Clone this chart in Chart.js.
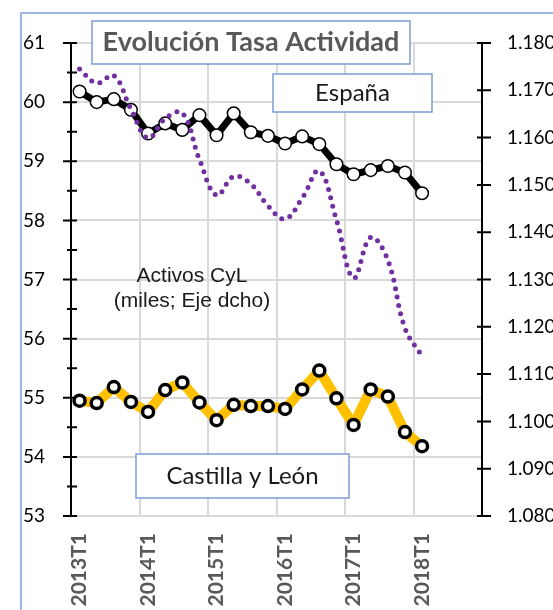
<!DOCTYPE html>
<html lang="es">
<head>
  <meta charset="UTF-8" />
  <title>Evolución Tasa Actividad</title>
  <script src="https://cdn.jsdelivr.net/npm/chart.js"></script>
  <style>
    * { margin: 0; padding: 0; box-sizing: border-box; }
    html, body { width: 553px; height: 610px; overflow: hidden; background: #fff; }
    .frame {
      position: absolute; left: 20px; top: 12px; width: 700px; height: 700px;
      border-left: 2px solid #9db6e2; border-top: 2px solid #9db6e2;
    }
    #chart { position: absolute; left: 0; top: 0; }
  </style>
</head>
<body>
  <div class="frame"></div>
  <canvas id="chart" width="600" height="610"></canvas>

  <script>
    // quarters on the x axis (the axis runs to 2018T4, data stops at 2018T1)
    const quarters = [
      '2013T1', '2013T2', '2013T3', '2013T4',
      '2014T1', '2014T2', '2014T3', '2014T4',
      '2015T1', '2015T2', '2015T3', '2015T4',
      '2016T1', '2016T2', '2016T3', '2016T4',
      '2017T1', '2017T2', '2017T3', '2017T4',
      '2018T1', '2018T2', '2018T3', '2018T4'
    ];

    // activity rate, % (left axis)
    const espana = [60.18, 60.00, 60.05, 59.87, 59.47, 59.64, 59.53, 59.78, 59.44, 59.81, 59.49,
                    59.43, 59.30, 59.42, 59.29, 58.95, 58.78, 58.85, 58.92, 58.81, 58.46];
    const castillaLeon = [54.95, 54.91, 55.18, 54.93, 54.76, 55.13, 55.26, 54.92, 54.62, 54.88, 54.86,
                          54.86, 54.81, 55.14, 55.46, 54.99, 54.54, 55.14, 55.02, 54.42, 54.18];

    // active population CyL, thousands (right axis)
    const activosCyL = [1174.5, 1171.5, 1173.1, 1166.0, 1159.9, 1164.0, 1165.2, 1155.4, 1147.8, 1151.8, 1150.2,
                        1145.6, 1142.8, 1147.2, 1153.0, 1142.6, 1130.3, 1138.9, 1134.1, 1119.7, 1113.8];

    const leftRange = { min: 53, max: 61, step: 0.5 };
    const rightRange = { min: 1080, max: 1180, step: 10 };

    const GRID = '#d9d9d9';

    // small cross tick marks on both value axes
    const axisTicks = {
      id: 'axisTicks',
      beforeDatasetsDraw(chart) {
        const { ctx } = chart;
        const y = chart.scales.y, y2 = chart.scales.y2;
        ctx.save();
        ctx.strokeStyle = '#000';
        ctx.lineWidth = 2;
        ctx.beginPath();
        y.ticks.forEach(t => {
          const py = y.getPixelForValue(t.value);
          const major = Number.isInteger(t.value);
          ctx.moveTo(y.right - (major ? 8 : 4), py);
          ctx.lineTo(y.right + 6, py);
        });
        y2.ticks.forEach(t => {
          const py = y2.getPixelForValue(t.value);
          ctx.moveTo(y2.left - 5, py);
          ctx.lineTo(y2.left + 9, py);
        });
        ctx.stroke();
        ctx.restore();
      }
    };

    // text boxes drawn over the plot
    const notes = [
      { box: [92, 21, 318, 43], lines: ['Evolución Tasa Actividad'], font: 'bold 27px Lato', color: '#595959' },
      { box: [273, 74, 159, 38], lines: ['España'], font: '24px Lato', color: '#1a1a1a' },
      { box: [136, 454, 213, 44], lines: ['Castilla y León'], font: '24px Lato', color: '#1a1a1a' },
      { at: [192, 276], lines: ['Activos CyL', '(miles; Eje dcho)'], font: '21px "Liberation Sans"', color: '#1a1a1a', lh: 25 }
    ];

    const textBoxes = {
      id: 'textBoxes',
      afterDraw(chart) {
        const { ctx } = chart;
        ctx.save();
        notes.forEach(n => {
          let cx, cy;
          if (n.box) {
            const [x, y, w, h] = n.box;
            ctx.fillStyle = '#fff';
            ctx.fillRect(x, y, w, h);
            ctx.strokeStyle = '#7b9dd4';
            ctx.lineWidth = 1.5;
            ctx.strokeRect(x, y, w, h);
            cx = x + w / 2;
            cy = y + h / 2;
          } else {
            [cx, cy] = n.at;
          }
          ctx.font = n.font;
          ctx.fillStyle = n.color;
          ctx.textAlign = 'center';
          ctx.textBaseline = 'middle';
          const lh = n.lh || 0;
          n.lines.forEach((s, i) => ctx.fillText(s, cx, cy + i * lh));
        });
        ctx.restore();
      }
    };

    new Chart(document.getElementById('chart'), {
      type: 'line',
      data: {
        labels: quarters,
        datasets: [
          {
            label: 'Activos CyL',
            data: activosCyL,
            yAxisID: 'y2',
            borderColor: '#7030a0',
            borderWidth: 5,
            borderDash: [0, 8.6],
            borderCapStyle: 'round',
            tension: 0.4,
            pointRadius: 0,
            fill: false
          },
          {
            label: 'España',
            data: espana,
            yAxisID: 'y',
            borderColor: '#000',
            borderWidth: 7,
            borderJoinStyle: 'round',
            pointRadius: 6.3,
            pointBackgroundColor: '#fff',
            pointBorderColor: '#000',
            pointBorderWidth: 1.5,
            tension: 0
          },
          {
            label: 'Castilla y León',
            data: castillaLeon,
            yAxisID: 'y',
            borderColor: '#ffc000',
            borderWidth: 10,
            borderJoinStyle: 'round',
            pointRadius: 5.5,
            pointBackgroundColor: '#fff',
            pointBorderColor: '#000',
            pointBorderWidth: 3.5,
            tension: 0
          }
        ]
      },
      options: {
        responsive: false,
        animation: false,
        layout: { padding: { top: 43, left: 0, right: 0, bottom: 0 } },
        plugins: {
          legend: { display: false },
          tooltip: { enabled: false }
        },
        scales: {
          x: {
            type: 'category',
            offset: true,
            afterFit(scale) { scale.height = 94; },
            grid: {
              offset: true,
              drawTicks: false,
              lineWidth: 2,
              color: ctx => (ctx.index % 4 === 0 ? GRID : 'rgba(0,0,0,0)')
            },
            border: { color: GRID, width: 2 },
            ticks: {
              autoSkip: false,
              minRotation: 90,
              maxRotation: 90,
              padding: 17,
              color: '#595959',
              font: { family: 'Lato', size: 21, weight: 'bold' },
              callback(val, i) { return i % 4 === 0 ? this.getLabelForValue(val) : ''; }
            }
          },
          y: {
            position: 'left',
            min: leftRange.min,
            max: leftRange.max,
            afterFit(scale) { scale.width = 71; },
            grid: {
              drawTicks: false,
              lineWidth: 2,
              color: ctx => (Number.isInteger(ctx.tick.value) ? GRID : 'rgba(0,0,0,0)')
            },
            border: { color: '#000', width: 2 },
            ticks: {
              stepSize: leftRange.step,
              padding: 26,
              color: '#000',
              font: { family: 'Lato', size: 19 },
              callback: v => (Number.isInteger(v) ? v : '')
            }
          },
          y2: {
            position: 'right',
            min: rightRange.min,
            max: rightRange.max,
            afterFit(scale) { scale.width = 118; },
            grid: { drawOnChartArea: false, drawTicks: false },
            border: { color: '#000', width: 2 },
            ticks: {
              stepSize: rightRange.step,
              padding: 25,
              color: '#000',
              font: { family: 'Lato', size: 19 },
              callback: v => (v / 1000).toFixed(3)
            }
          }
        }
      },
      plugins: [axisTicks, textBoxes]
    });
  </script>
</body>
</html>
